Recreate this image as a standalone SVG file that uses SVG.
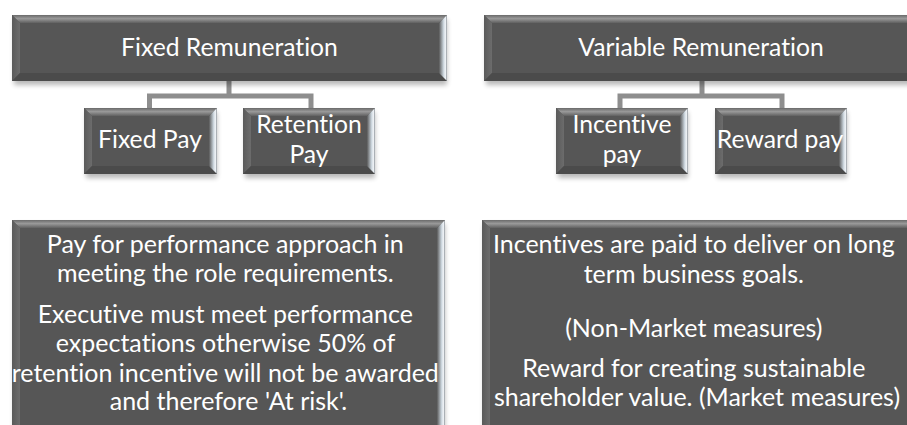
<svg xmlns="http://www.w3.org/2000/svg" width="907" height="425" viewBox="0 0 907 425">
<style>
.base{fill:#565656}
.top{fill:url(#gTop)}
.left{fill:url(#gLeft)}
.right{fill:url(#gRight)}
.bot{fill:#4b4b4b}
.shadow{fill:#000;opacity:0.28;filter:url(#blur)}
.t{font-family:Lato,"Liberation Sans",sans-serif;fill:#ffffff;text-anchor:middle;font-variant-ligatures:none;font-size:24.7px}
.b{font-size:25px}
.conn{stroke:#8e8e8e;stroke-width:5;fill:none;stroke-linejoin:miter}
</style>
<defs>
<linearGradient id="gTop" x1="0" y1="0" x2="0" y2="1">
<stop offset="0" stop-color="#6a6a6a"/>
<stop offset="0.45" stop-color="#999999"/>
<stop offset="1" stop-color="#606060"/>
</linearGradient>
<linearGradient id="gLeft" x1="0" y1="0" x2="1" y2="0">
<stop offset="0" stop-color="#5a5a5a"/>
<stop offset="1" stop-color="#6c6c6c"/>
</linearGradient>
<linearGradient id="gRight" x1="0" y1="0" x2="1" y2="0">
<stop offset="0" stop-color="#5a5a5a"/>
<stop offset="0.55" stop-color="#c8d2da"/>
<stop offset="0.8" stop-color="#f2f6fa"/>
<stop offset="1" stop-color="#8a9096"/>
</linearGradient>
<filter id="blur" x="-10%" y="-20%" width="120%" height="140%">
<feGaussianBlur stdDeviation="2.5"/>
</filter>
</defs>

<g id="connectors">
<path class="conn" d="M229 81 V96 M149.5 108 V96 H311 V108"/>
<path class="conn" d="M702 81 V96 M620 108 V96 H782 V108"/>
</g>

<g id="fixed-remuneration">
<rect class="shadow" x="14" y="19" width="433" height="66"/>
<rect class="base" x="12" y="15" width="435" height="66"/>
<polygon class="top" points="12,15 447,15 439,23 20,23"/>
<polygon class="left" points="12,15 20,23 20,73 12,81"/>
<polygon class="bot" points="12,81 20,73 439,73 447,81"/>
<polygon class="right" points="447,15 447,81 439,73 439,23"/>
<text class="t" x="229.5" y="56">Fixed Remuneration</text>
</g>

<g id="fixed-pay">
<rect class="shadow" x="86" y="112" width="131" height="66"/>
<rect class="base" x="84" y="108" width="133" height="66"/>
<polygon class="top" points="84,108 217,108 209,116 92,116"/>
<polygon class="left" points="84,108 92,116 92,166 84,174"/>
<polygon class="bot" points="84,174 92,166 209,166 217,174"/>
<polygon class="right" points="217,108 217,174 209,166 209,116"/>
<text class="t" x="150" y="148">Fixed Pay</text>
</g>

<g id="retention-pay">
<rect class="shadow" x="245" y="112" width="130" height="66"/>
<rect class="base" x="243" y="108" width="132" height="66"/>
<polygon class="top" points="243,108 375,108 367,116 251,116"/>
<polygon class="left" points="243,108 251,116 251,166 243,174"/>
<polygon class="bot" points="243,174 251,166 367,166 375,174"/>
<polygon class="right" points="375,108 375,174 367,166 367,116"/>
<text class="t" x="309" y="133">Retention</text>
<text class="t" x="309" y="163">Pay</text>
</g>

<g id="variable-remuneration">
<rect class="shadow" x="486" y="19" width="433" height="66"/>
<rect class="base" x="484" y="15" width="435" height="66"/>
<polygon class="top" points="484,15 919,15 911,23 492,23"/>
<polygon class="left" points="484,15 492,23 492,73 484,81"/>
<polygon class="bot" points="484,81 492,73 911,73 919,81"/>
<text class="t" x="701" y="56">Variable Remuneration</text>
</g>

<g id="incentive-pay">
<rect class="shadow" x="558" y="112" width="130" height="66"/>
<rect class="base" x="556" y="108" width="132" height="66"/>
<polygon class="top" points="556,108 688,108 680,116 564,116"/>
<polygon class="left" points="556,108 564,116 564,166 556,174"/>
<polygon class="bot" points="556,174 564,166 680,166 688,174"/>
<polygon class="right" points="688,108 688,174 680,166 680,116"/>
<text class="t" x="622" y="133">Incentive</text>
<text class="t" x="622" y="163">pay</text>
</g>

<g id="reward-pay">
<rect class="shadow" x="717" y="112" width="130" height="66"/>
<rect class="base" x="715" y="108" width="132" height="66"/>
<polygon class="top" points="715,108 847,108 839,116 723,116"/>
<polygon class="left" points="715,108 723,116 723,166 715,174"/>
<polygon class="bot" points="715,174 723,166 839,166 847,174"/>
<polygon class="right" points="847,108 847,174 839,166 839,116"/>
<text class="t" x="780" y="148">Reward pay</text>
</g>

<g id="fixed-description">
<rect class="shadow" x="14" y="224" width="431" height="210"/>
<rect class="base" x="12" y="220" width="433" height="210"/>
<polygon class="top" points="12,220 445,220 437,228 20,228"/>
<polygon class="left" points="12,220 20,228 20,430 12,430"/>
<polygon class="right" points="445,220 445,430 437,430 437,228"/>
<text class="t b">
<tspan x="228.5" y="253">Pay for performance approach in</tspan>
<tspan x="228.5" y="282">meeting the role requirements.</tspan>
<tspan x="228.5" y="323">Executive must meet performance</tspan>
<tspan x="228.5" y="352">expectations otherwise 50% of</tspan>
<tspan x="228.5" y="382">retention incentive will not be awarded</tspan>
<tspan x="228.5" y="410">and therefore 'At risk'.</tspan>
</text>
</g>

<g id="variable-description">
<rect class="shadow" x="484" y="224" width="431" height="210"/>
<rect class="base" x="482" y="220" width="433" height="210"/>
<polygon class="top" points="482,220 915,220 907,228 490,228"/>
<polygon class="left" points="482,220 490,228 490,430 482,430"/>
<text class="t b">
<tspan x="697" y="253">Incentives are paid to deliver on long</tspan>
<tspan x="697" y="283">term business goals.</tspan>
<tspan x="697" y="337">(Non-Market measures)</tspan>
<tspan x="697" y="377">Reward for creating sustainable</tspan>
<tspan x="697" y="406">shareholder value. (Market measures)</tspan>
</text>
</g>
</svg>
